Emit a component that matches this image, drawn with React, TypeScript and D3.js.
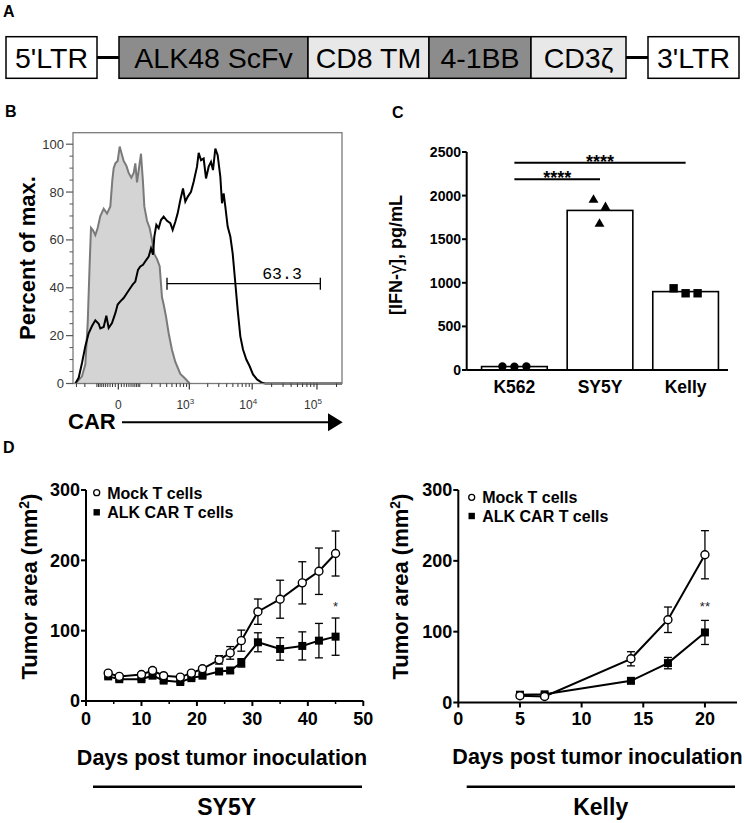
import React from "react";
import * as d3 from "d3";

const FONT = "'Liberation Sans', Arial, Helvetica, sans-serif";

// ---------------- Panel A: construct ----------------
const constructLabels = ["5'LTR", "ALK48 ScFv", "CD8 TM", "4-1BB", "CD3ζ", "3'LTR"];
const constructKind = ["ltr", "dark", "light", "dark", "light", "ltr"];

// ---------------- Panel B: flow histogram (channel, % of max) ----------------
const flowMajorValues = [0, 1000, 10000, 100000];
const flowMajorExp = ["", "3", "4", "5"];
const pctTicks = [0, 20, 40, 60, 80, 100];
const controlHist: [number, number][] = [
  [225, 0], [232, 1], [245, 3], [255, 8], [262, 25], [268, 50], [272, 65], [278, 64], [285, 62],
  [292, 65], [300, 70], [310, 73], [320, 71], [330, 74], [336, 85], [340, 90], [345, 92], [352, 93],
  [358, 99], [364, 96], [370, 93], [378, 91], [385, 88], [393, 86], [400, 88], [405, 92], [410, 84],
  [415, 89], [422, 96], [428, 84], [432, 74], [440, 68], [448, 65], [455, 60], [462, 54], [470, 52],
  [478, 49], [485, 36], [490, 33], [497, 28], [505, 21], [515, 14], [525, 9], [540, 4], [555, 2], [568, 0],
];
const carHist: [number, number][] = [
  [225, 0], [235, 2.4], [245, 8.6], [255, 15.6], [265, 21], [275, 24], [285, 26.4], [295, 25], [300, 23],
  [310, 23.6], [318, 28.3], [325, 23.2], [335, 25.3], [345, 29.4], [352, 33], [360, 34.3], [370, 35.7],
  [380, 37.8], [390, 39.9], [398, 41.5], [405, 42.6], [413, 47.5], [420, 48.9], [428, 49.6], [438, 51.7],
  [445, 53], [452, 56.5], [458, 53.8], [462, 61.4], [468, 66.3], [475, 64.9], [482, 68.3], [490, 69.7],
  [500, 68], [510, 67], [517, 64.2], [525, 67.6], [532, 71.1], [540, 76.7], [548, 81.5], [555, 76],
  [562, 78], [572, 80.1], [580, 84.3], [590, 90.6], [595, 96.4], [602, 93.3], [610, 94], [617, 85.7],
  [625, 90.6], [632, 92.6], [638, 89.2], [645, 98.2], [652, 95.4], [660, 86.4], [665, 75.3], [670, 79.4],
  [675, 73.9], [682, 65.6], [690, 61.4], [697, 54.4], [705, 41.9], [712, 30.8], [720, 19.7], [728, 14.2],
  [738, 10], [748, 7.2], [758, 3.8], [770, 1.7], [785, 0.3], [795, 0], [1025, 0],
];
const gateChannels = [500, 960];
const gateLevel = 41.7;
const gateLabel = "63.3";

// ---------------- Panel C: IFN-gamma ----------------
const cellLines = ["K562", "SY5Y", "Kelly"];
const ifnK562 = [40, 38, 40];
const ifnSY5Y = [1950, 1866, 1674];
const ifnKelly = [937, 880, 880];
const ifnTicks = [0, 500, 1000, 1500, 2000, 2500];
const sigFrom = ["K562", "K562"];
const sigTo = ["SY5Y", "Kelly"];
const sigLevels = [2187, 2377];
const sigLabels = ["****", "****"];

// ---------------- Panel D: tumor growth ----------------
const sy5yDays = [4, 6, 10, 12, 14, 17, 19, 21, 24, 26, 28, 31, 35, 39, 42, 45];
const sy5yMock = [39.6, 35, 37.7, 43.4, 36, 34, 39.6, 45.8, 58.5, 68.4, 85.8, 127, 144.7, 168, 184.5, 209.7];
const sy5yMockSem = [2, 2, 2, 3, 2, 2, 2, 3, 6, 9, 15, 18, 27, 30, 33, 32];
const sy5yCar = [35, 31, 31, 36, 29, 27, 32.5, 36, 42, 43.4, 54.2, 83.5, 74, 78.3, 85.8, 91.5];
const sy5yCarSem = [2, 2, 2, 2, 2, 2, 2, 2, 3, 3, 6, 13.5, 16, 20, 24.5, 26.5];
const sy5yXTicks = [0, 10, 20, 30, 40, 50];
const sy5yXMinor = [5, 15, 25, 35, 45];

const kellyDays = [5, 7, 14, 17, 20];
const kellyMock = [9.5, 8.5, 61.7, 116.8, 208.6];
const kellyMockSem = [2, 2, 10, 18, 34];
const kellyCar = [11, 11.5, 30.6, 55.6, 98.9];
const kellyCarSem = [2, 2, 3, 8, 17];
const kellyXTicks = [0, 5, 10, 15, 20];

const tumorYTicks = [0, 100, 200, 300];
const legendLabels = ["Mock T cells", "ALK CAR T cells"];

function PanelA() {
  const edges: [number, number][] = [[6, 97], [119, 308], [308, 429], [429, 531], [531, 626], [648, 739]];
  const fills: Record<string, string> = { ltr: "#ffffff", dark: "#8c8c8c", light: "#e8e8e8" };
  const y0 = 36.7, h = 41.6, cy = y0 + h / 2;
  return (
    <g>
      <text x={3} y={17} fontFamily={FONT} fontWeight="bold" fontSize={16}>A</text>
      <line x1={97} x2={119} y1={cy} y2={cy} stroke="#000" strokeWidth={3} />
      <line x1={626} x2={648} y1={cy} y2={cy} stroke="#000" strokeWidth={3} />
      {constructLabels.map((lab, i) => (
        <g key={lab}>
          <rect x={edges[i][0]} y={y0} width={edges[i][1] - edges[i][0]} height={h}
            fill={fills[constructKind[i]]} stroke="#000" strokeWidth={1.5} />
          <text x={(edges[i][0] + edges[i][1]) / 2} y={68.3} textAnchor="middle"
            fontFamily={FONT} fontSize={28.5} fill="#000">{lab}</text>
        </g>
      ))}
    </g>
  );
}

function PanelB() {
  const sx = d3.scaleLinear().domain([218, 1025]).range([73, 342]);
  const sy = d3.scaleLinear().domain([0, 104.8]).range([383.5, 132.7]);
  const channelOf = (v: number) => 354 + 195 * Math.sign(v) * Math.log10(1 + Math.abs(v) / 88);
  const line = d3.line<[number, number]>().x(d => sx(d[0])).y(d => sy(d[1]));
  const area = d3.area<[number, number]>().x(d => sx(d[0])).y0(sy(0)).y1(d => sy(d[1]));
  const minor: number[] = [];
  [10, 100, 1000, 10000, 100000].forEach(dec => {
    for (let m = 1; m <= 9; m++) {
      const v = m * dec;
      if (!flowMajorValues.includes(v)) { minor.push(v); minor.push(-v); }
    }
  });
  const minorCh = minor.map(channelOf).filter(c => c > 219 && c < 1024);
  const yMinor = d3.range(0, 101, 5).filter(v => v % 20 !== 0);
  const xb = 383.5;
  return (
    <g fontFamily={FONT}>
      <text x={5} y={117} fontWeight="bold" fontSize={16}>B</text>
      <path d={area(controlHist) || ""} fill="#d4d4d4" stroke="none" />
      <path d={line(controlHist) || ""} fill="none" stroke="#7a7a7a" strokeWidth={2} />
      <path d={line(carHist) || ""} fill="none" stroke="#000" strokeWidth={2} />
      <rect x={73} y={132.7} width={342 - 73} height={xb - 132.7} fill="none" stroke="#7a7a7a" strokeWidth={1.3} />
      {/* y ticks */}
      {pctTicks.map(t => (
        <g key={t}>
          <line x1={66} x2={73} y1={sy(t)} y2={sy(t)} stroke="#555" strokeWidth={1.2} />
          <text x={64} y={sy(t)} dy="0.35em" textAnchor="end" fontSize={13} fill="#333">{t}</text>
        </g>
      ))}
      {yMinor.map(t => (
        <line key={t} x1={69.5} x2={73} y1={sy(t)} y2={sy(t)} stroke="#555" strokeWidth={1} />
      ))}
      {/* x ticks */}
      {minorCh.map((c, i) => (
        <line key={i} x1={sx(c)} x2={sx(c)} y1={xb} y2={xb + 3.5} stroke="#333" strokeWidth={1} />
      ))}
      {flowMajorValues.map((v, i) => {
        const x = sx(channelOf(v));
        return (
          <g key={v}>
            <line x1={x} x2={x} y1={xb} y2={xb + 6} stroke="#333" strokeWidth={1.2} />
            {flowMajorExp[i] === "" ? (
              <text x={x} y={408.5} textAnchor="middle" fontSize={12} fill="#333">0</text>
            ) : (
              <text x={x - 4} y={408.5} textAnchor="middle" fontSize={12} fill="#333">
                10<tspan fontSize={8} dy={-5}>{flowMajorExp[i]}</tspan>
              </text>
            )}
          </g>
        );
      })}
      {/* gate */}
      <g stroke="#000" strokeWidth={1.3}>
        <line x1={sx(gateChannels[0])} x2={sx(gateChannels[1])} y1={sy(gateLevel)} y2={sy(gateLevel)} />
        <line x1={sx(gateChannels[0])} x2={sx(gateChannels[0])} y1={sy(gateLevel) - 6} y2={sy(gateLevel) + 6} />
        <line x1={sx(gateChannels[1])} x2={sx(gateChannels[1])} y1={sy(gateLevel) - 6} y2={sy(gateLevel) + 6} />
      </g>
      <text x={282} y={278.5} textAnchor="middle" fontFamily="'Liberation Mono', 'DejaVu Sans Mono', monospace"
        fontSize={16.5} fill="#000">{gateLabel}</text>
      <text transform="translate(35,258) rotate(-90)" textAnchor="middle" fontWeight="bold" fontSize={22}>Percent of max.</text>
      {/* CAR arrow */}
      <text x={68} y={429.3} fontWeight="bold" fontSize={22}>CAR</text>
      <line x1={122} x2={330} y1={422.3} y2={422.3} stroke="#000" strokeWidth={2} />
      <path d="M328,413.3 L342.7,422.3 L328,431.3 Z" fill="#000" />
    </g>
  );
}

function PanelC() {
  const sx = d3.scaleBand<string>().domain(cellLines).range([476, 724]).paddingInner(0.233).paddingOuter(0.065);
  const sy = d3.scaleLinear().domain([0, 2500]).range([370, 152]);
  const groups = [ifnK562, ifnSY5Y, ifnKelly];
  const offsets = [[-12, 0, 12], [-6.5, 5.5, -0.5], [-12, 0, 12]];
  const tri = d3.symbol().type(d3.symbolTriangle).size(42)() || "";
  const bw = sx.bandwidth();
  const cx = (c: string) => (sx(c) || 0) + bw / 2;
  return (
    <g fontFamily={FONT}>
      <text x={392} y={118} fontWeight="bold" fontSize={16}>C</text>
      {cellLines.map((c, i) => {
        const m = d3.mean(groups[i]) || 0;
        return (
          <rect key={c} x={sx(c)} y={sy(m)} width={bw} height={sy(0) - sy(m)} fill="#fff" stroke="#000" strokeWidth={1.6} />
        );
      })}
      {cellLines.map((c, i) => groups[i].map((v, j) => {
        const x = cx(c) + offsets[i][j];
        const y = sy(v);
        if (i === 0) return <circle key={c + j} cx={x} cy={y} r={4.2} fill="#000" />;
        if (i === 1) return <path key={c + j} d={tri} transform={`translate(${x},${y})`} fill="#000" />;
        return <rect key={c + j} x={x - 4.2} y={y - 4.2} width={8.4} height={8.4} fill="#000" />;
      }))}
      {/* axes */}
      <line x1={466.7} x2={466.7} y1={sy(2500)} y2={sy(0)} stroke="#000" strokeWidth={2} />
      <line x1={466.7} x2={728} y1={sy(0)} y2={sy(0)} stroke="#000" strokeWidth={2} />
      {ifnTicks.map(t => (
        <g key={t}>
          <line x1={462} x2={466.7} y1={sy(t)} y2={sy(t)} stroke="#000" strokeWidth={2} />
          <text x={461} y={sy(t)} dy="0.36em" textAnchor="end" fontWeight="bold" fontSize={14}>{t}</text>
        </g>
      ))}
      {cellLines.map(c => (
        <text key={c} x={cx(c)} y={393} textAnchor="middle" fontWeight="bold" fontSize={17.5}>{c}</text>
      ))}
      {sigFrom.map((f, i) => {
        const x1 = cx(f), x2 = cx(sigTo[i]);
        const y = sy(sigLevels[i]);
        return (
          <g key={i}>
            <line x1={x1} x2={x2} y1={y} y2={y} stroke="#000" strokeWidth={2} />
            <text x={(x1 + x2) / 2} y={y + 5} textAnchor="middle" fontWeight="bold" fontSize={18}>{sigLabels[i]}</text>
          </g>
        );
      })}
      <text transform="translate(402,255) rotate(-90)" textAnchor="middle" fontWeight="bold" fontSize={18}>
        [IFN-<tspan fontWeight="normal">γ</tspan>], pg/mL
      </text>
    </g>
  );
}

type GrowthProps = {
  xDomain: [number, number]; xRange: [number, number]; yRange: [number, number];
  xTicks: number[]; xMinor: number[];
  days: number[]; mock: number[]; mockSem: number[]; car: number[]; carSem: number[];
  sigDay: number; sigValue: number; sigText: string;
  legendX: number; legendY: [number, number];
  yLabelX: number; xLabelX: number; xLabelY: number; underline: [number, number]; groupLabel: string; groupX: number;
};

function GrowthPanel(p: GrowthProps) {
  const sx = d3.scaleLinear().domain(p.xDomain).range(p.xRange);
  const sy = d3.scaleLinear().domain([0, 300]).range(p.yRange);
  const line = d3.line<number>().x((_, i) => sx(p.days[i])).y(d => sy(d));
  const ax = p.xRange[0];
  const ay = p.yRange[0];
  const errBars = (vals: number[], sems: number[], key: string) =>
    vals.map((v, i) => {
      const x = sx(p.days[i]);
      const yt = sy(v + sems[i]), yb = sy(v - sems[i]);
      return (
        <g key={key + i} stroke="#000" strokeWidth={1.3}>
          <line x1={x} x2={x} y1={yt} y2={yb} />
          <line x1={x - 4} x2={x + 4} y1={yt} y2={yt} />
          <line x1={x - 4} x2={x + 4} y1={yb} y2={yb} />
        </g>
      );
    });
  return (
    <g fontFamily={FONT}>
      {errBars(p.car, p.carSem, "c")}
      {errBars(p.mock, p.mockSem, "m")}
      <path d={line(p.car) || ""} fill="none" stroke="#000" strokeWidth={2} />
      <path d={line(p.mock) || ""} fill="none" stroke="#000" strokeWidth={2} />
      {p.car.map((v, i) => (
        <rect key={"cs" + i} x={sx(p.days[i]) - 4} y={sy(v) - 4} width={8} height={8} fill="#000" />
      ))}
      {p.mock.map((v, i) => (
        <circle key={"ms" + i} cx={sx(p.days[i])} cy={sy(v)} r={4} fill="#fff" stroke="#000" strokeWidth={1.4} />
      ))}
      <text x={sx(p.sigDay)} y={sy(p.sigValue) + 7.5} textAnchor="middle" fontSize={13} fill="#222">{p.sigText}</text>
      {/* axes */}
      <line x1={ax} x2={ax} y1={sy(0)} y2={sy(300)} stroke="#000" strokeWidth={2} />
      <line x1={ax} x2={p.xRange[1]} y1={ay} y2={ay} stroke="#000" strokeWidth={2} />
      {tumorYTicks.map(t => (
        <g key={t}>
          <line x1={ax - 5} x2={ax} y1={sy(t)} y2={sy(t)} stroke="#000" strokeWidth={2} />
          <text x={ax - 6} y={sy(t)} dy="0.36em" textAnchor="end" fontWeight="bold" fontSize={18}>{t}</text>
        </g>
      ))}
      {p.xTicks.map(t => (
        <g key={t}>
          <line x1={sx(t)} x2={sx(t)} y1={ay} y2={ay + 5} stroke="#000" strokeWidth={2} />
          <text x={sx(t)} y={725} textAnchor="middle" fontWeight="bold" fontSize={18}>{t}</text>
        </g>
      ))}
      {p.xMinor.map(t => (
        <line key={t} x1={sx(t)} x2={sx(t)} y1={ay} y2={ay + 3} stroke="#000" strokeWidth={1.5} />
      ))}
      {/* legend */}
      <circle cx={p.legendX} cy={p.legendY[0]} r={3} fill="#fff" stroke="#000" strokeWidth={1.3} />
      <rect x={p.legendX - 3.2} y={p.legendY[1] - 3.2} width={6.4} height={6.4} fill="#000" />
      {legendLabels.map((l, i) => (
        <text key={l} x={p.legendX + 10.5} y={p.legendY[i] + 6} fontWeight="bold" fontSize={16}>{l}</text>
      ))}
      <text transform={`translate(${p.yLabelX},586.5) rotate(-90)`} textAnchor="middle" fontWeight="bold" fontSize={22}>
        Tumor area (mm<tspan fontSize={14} dy={-8}>2</tspan><tspan dy={8}>)</tspan>
      </text>
      <text x={p.xLabelX} y={p.xLabelY} textAnchor="middle" fontWeight="bold" fontSize={21.5}>Days post tumor inoculation</text>
      <line x1={p.underline[0]} x2={p.underline[1]} y1={786.7} y2={786.7} stroke="#000" strokeWidth={2.5} />
      <text x={p.groupX} y={815} textAnchor="middle" fontWeight="bold" fontSize={23}>{p.groupLabel}</text>
    </g>
  );
}

export default function App() {
  return (
    <svg width={745} height={823} viewBox="0 0 745 823"
      style={{ position: "absolute", left: 0, top: 0, display: "block", background: "#fff" }}>
      <rect x={0} y={0} width={745} height={823} fill="#fff" />
      <PanelA />
      <PanelB />
      <PanelC />
      <text x={3} y={453} fontFamily={FONT} fontWeight="bold" fontSize={16}>D</text>
      <GrowthPanel
        xDomain={[0, 50]} xRange={[86, 363.3]} yRange={[701, 490]}
        xTicks={sy5yXTicks} xMinor={sy5yXMinor}
        days={sy5yDays} mock={sy5yMock} mockSem={sy5yMockSem} car={sy5yCar} carSem={sy5yCarSem}
        sigDay={45} sigValue={138.6} sigText="*"
        legendX={96.7} legendY={[492.7, 512.3]}
        yLabelX={36.5} xLabelX={222} xLabelY={765} underline={[93, 362]} groupLabel="SY5Y" groupX={226.7}
      />
      <GrowthPanel
        xDomain={[0, 22.6]} xRange={[458.3, 737]} yRange={[702.5, 490]}
        xTicks={kellyXTicks} xMinor={[]}
        days={kellyDays} mock={kellyMock} mockSem={kellyMockSem} car={kellyCar} carSem={kellyCarSem}
        sigDay={20} sigValue={140.4} sigText="**"
        legendX={471.7} legendY={[497.3, 516]}
        yLabelX={408} xLabelX={597.5} xLabelY={764} underline={[466.7, 735]} groupLabel="Kelly" groupX={600.7}
      />
    </svg>
  );
}
